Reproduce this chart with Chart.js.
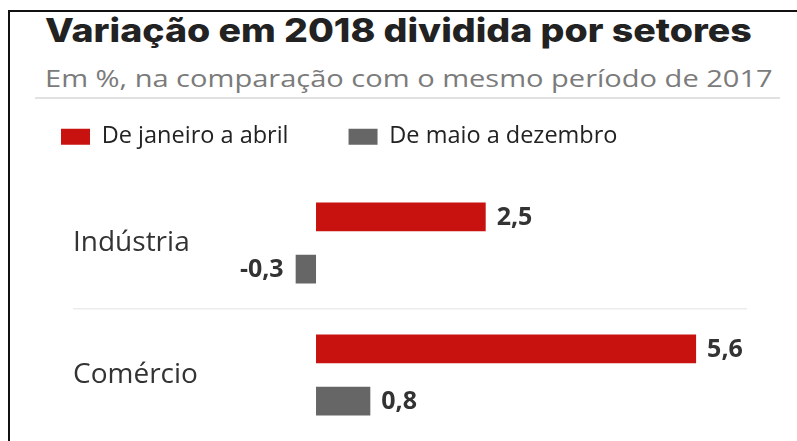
<!DOCTYPE html>
<html lang="pt-BR">
<head>
<meta charset="utf-8">
<title>Variação em 2018 dividida por setores</title>
<script src="https://cdn.jsdelivr.net/npm/chart.js@4.4.1/dist/chart.umd.min.js"></script>
<style>
  html, body { margin: 0; padding: 0; background: #fff; }
  #page { position: relative; width: 797px; height: 441px; overflow: hidden; }
  #frame { position: absolute; left: 8px; top: 10px; right: 0; bottom: 0; border-top: 2px solid #111; border-left: 2px solid #111; }
  h1 { position: absolute; left: 45px; top: 14px; margin: 0; font: 800 33px/33px Inter, sans-serif; color: #222; white-space: nowrap; transform: scaleX(1.137); transform-origin: 0 0; }
  .sub { position: absolute; left: 45px; top: 66px; margin: 0; font: 24px/24px "Open Sans", sans-serif; color: #7b7b7b; white-space: nowrap; transform: scaleX(1.21); transform-origin: 0 0; }
  .rule { position: absolute; left: 35px; top: 97px; width: 745px; height: 2px; background: #e1e1e1; }
  canvas { position: absolute; left: 0; top: 65px; }
</style>
</head>
<body>
<div id="page">
  <div id="frame"></div>
  <h1>Variação em 2018 dividida por setores</h1>
  <p class="sub">Em %, na comparação com o mesmo período de 2017</p>
  <div class="rule"></div>
  <canvas id="chart" width="797" height="376"></canvas>
</div>
<script>
// dados
var categories = ['Indústria', 'Comércio'];
var seriesNames = ['De janeiro a abril', 'De maio a dezembro'];
var janAbr = [2.5, 5.6];
var maiDez = [-0.3, 0.8];
var xMin = -0.6;
var xMax = 6.35;

// rótulos de valor ao lado das barras
var valueLabels = {
  id: 'valueLabels',
  afterDatasetsDraw: function(chart) {
    var ctx = chart.ctx;
    ctx.save();
    ctx.font = 'bold 25px "Open Sans"';
    ctx.fillStyle = '#333';
    ctx.textBaseline = 'middle';
    chart.data.datasets.forEach(function(ds, i) {
      chart.getDatasetMeta(i).data.forEach(function(bar, j) {
        var v = ds.data[j];
        var neg = v < 0;
        ctx.textAlign = neg ? 'right' : 'left';
        ctx.fillText(v.toFixed(1).replace('.', ','), bar.x + (neg ? -12 : 11), bar.y + 1);
      });
    });
    ctx.restore();
  }
};

new Chart(document.getElementById('chart'), {
  type: 'bar',
  data: {
    labels: categories,
    datasets: [
      { label: seriesNames[0], data: janAbr, backgroundColor: '#c8120f', categoryPercentage: 0.79, barPercentage: 0.55 },
      { label: seriesNames[1], data: maiDez, backgroundColor: '#666666', categoryPercentage: 0.79, barPercentage: 0.55 }
    ]
  },
  options: {
    indexAxis: 'y',
    responsive: false,
    animation: false,
    layout: { padding: { left: 1, right: 50, top: 0, bottom: 0 } },
    plugins: {
      legend: {
        position: 'top',
        align: 'start',
        labels: {
          boxWidth: 29,
          boxHeight: 16,
          padding: 60,
          color: '#222',
          font: { family: 'Open Sans', size: 23.5 }
        }
      },
      tooltip: { enabled: false }
    },
    scales: {
      x: {
        type: 'linear',
        position: 'top',
        min: xMin,
        max: xMax,
        ticks: { display: false },
        border: { display: false },
        grid: {
          drawTicks: false,
          lineWidth: 1.5,
          color: function(c) { return c.tick && c.tick.value === 0 ? '#dcdcdc' : 'transparent'; }
        },
        afterFit: function(s) { s.height = 18.5; }
      },
      y: {
        type: 'category',
        position: 'left',
        weight: 0,
        border: { display: false },
        grid: {
          offset: true,
          tickLength: 202.3,
          lineWidth: 1.5,
          color: function(c) { return c.index === 1 ? '#ececec' : 'transparent'; }
        },
        ticks: { crossAlign: 'far', color: '#333', font: { family: 'Open Sans', size: 28 } },
        afterFit: function(s) {
          s.width = 202.3;
          s.paddingTop = 0;
          s.paddingBottom = 0;
        }
      },
      pad: {
        type: 'linear',
        position: 'left',
        weight: 1,
        ticks: { display: false },
        grid: { display: false, drawTicks: false },
        border: { display: false },
        afterFit: function(s) { s.width = 72; }
      }
    }
  },
  plugins: [valueLabels]
});
</script>
</body>
</html>
